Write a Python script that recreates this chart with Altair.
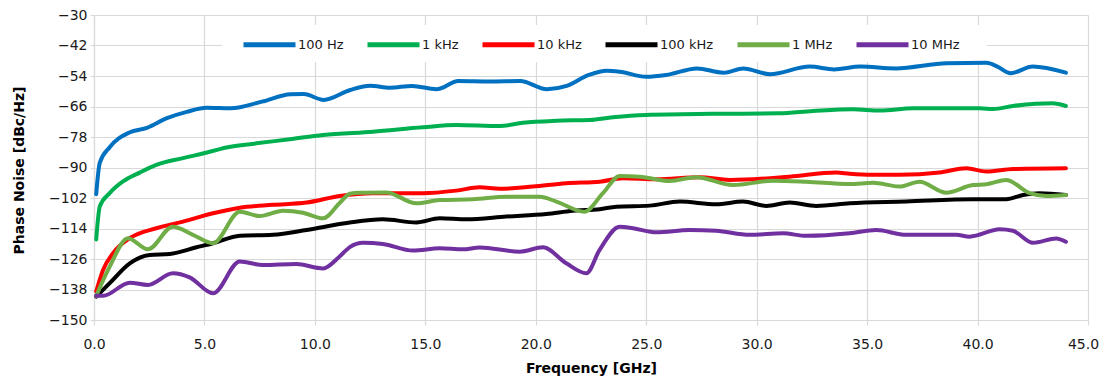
import altair as alt
import pandas as pd

series_names = ["100 Hz", "1 kHz", "10 kHz", "100 kHz", "1 MHz", "10 MHz"]
series_colors = ["#0070C0", "#00B050", "#FF0000", "#000000", "#70AD47", "#7030A0"]

x_ticks = [0, 5, 10, 15, 20, 25, 30, 35, 40, 45]
y_ticks = [-150, -138, -126, -114, -102, -90, -78, -66, -54, -42, -30]

f_100hz = [0.1, 0.26, 0.71, 1.6, 2.4, 3.3, 4.2, 5.1, 6.2, 7.6, 8.9, 9.5, 10.4, 11.6, 12.5, 13.4, 14.4, 15.5,
           16.5, 17.9, 19.3, 20.5, 21.4, 22.4, 23.2, 23.8, 25.0, 25.9, 27.3, 28.5, 29.4, 30.6, 32.4, 33.5,
           34.7, 36.3, 38.6, 40.4, 40.9, 41.5, 42.5, 44.0]
pn_100hz = [-100.5, -88.2, -82.0, -76.2, -74.4, -70.6, -68.1, -66.5, -66.7, -64.1, -61.2, -61.1, -63.4, -59.5,
            -57.8, -58.6, -57.9, -59.2, -56.0, -56.2, -56.0, -59.2, -57.9, -53.6, -51.9, -52.3, -54.3, -53.6,
            -51.0, -52.7, -51.0, -53.3, -50.3, -51.4, -50.3, -51.0, -49.0, -48.8, -50.3, -52.9, -50.3, -52.7]

f_1khz = [0.1, 0.26, 0.71, 1.31, 2.07, 2.82, 4.03, 4.93, 6.0, 7.35, 8.86, 10.37, 12.63, 14.89, 16.4, 18.37,
          19.42, 20.93, 22.44, 23.49, 25.0, 28.0, 31.0, 32.55, 34.36, 35.57, 37.08, 40.1, 40.7, 41.6, 43.4, 44.0]
pn_1khz = [-118.3, -105.4, -100.1, -95.5, -92.0, -89.0, -86.3, -84.5, -82.1, -80.5, -78.9, -77.2, -75.9, -74.2,
           -73.3, -73.7, -72.4, -71.6, -71.3, -70.2, -69.3, -68.9, -68.7, -67.8, -67.1, -67.6, -66.7, -66.7,
           -67.0, -65.8, -64.7, -65.8]

f_10khz = [0.1, 0.41, 0.86, 1.62, 2.82, 4.03, 5.39, 6.6, 8.1, 9.62, 11.12, 12.63, 14.89, 16.4, 17.46, 18.37,
           19.87, 21.38, 22.89, 23.95, 25.46, 27.42, 28.78, 31.49, 33.6, 34.21, 35.27, 36.47, 38.28, 39.49,
           40.4, 41.6, 44.0]
pn_10khz = [-138.8, -130.3, -123.7, -117.8, -113.9, -111.3, -108.0, -105.8, -104.7, -103.8, -101.2, -100.1,
            -100.1, -99.1, -97.8, -98.4, -97.5, -96.2, -95.6, -94.2, -94.6, -93.8, -94.9, -93.6, -92.0, -92.5,
            -92.9, -92.9, -92.0, -90.3, -91.6, -90.6, -90.3]

f_100khz = [0.1, 0.71, 1.62, 2.52, 3.43, 4.64, 5.39, 6.6, 8.1, 9.62, 11.58, 13.08, 14.59, 15.65, 16.86, 18.67,
            20.48, 21.68, 22.89, 23.65, 25.16, 26.51, 28.17, 29.38, 30.44, 31.49, 32.7, 34.21, 36.77, 39.79,
            41.3, 42.06, 42.81, 44.0]
pn_100khz = [-140.8, -135.5, -127.7, -124.4, -124.0, -121.4, -119.8, -116.9, -116.5, -114.6, -111.6, -110.4,
             -111.6, -110.0, -110.4, -109.3, -108.3, -107.0, -106.4, -105.4, -105.0, -103.4, -104.5, -103.4,
             -105.1, -103.8, -105.1, -104.1, -103.4, -102.5, -102.5, -100.8, -100.1, -100.8]

f_1mhz = [0.1, 0.71, 1.54, 2.44, 3.57, 4.48, 5.39, 6.6, 7.5, 8.56, 9.46, 10.37, 11.12, 11.58, 12.02, 13.23,
          14.59, 15.65, 17.16, 18.67, 20.18, 20.93, 22.2, 23.04, 23.8, 24.71, 26.06, 27.27, 28.93, 30.74, 32.25,
          34.21, 35.27, 36.47, 37.37, 38.58, 39.79, 40.4, 41.3, 42.36, 43.11, 44.0]
pn_1mhz = [-140.5, -129.0, -117.8, -122.2, -113.3, -116.5, -119.8, -107.4, -109.1, -107.0, -107.8, -110.0,
           -104.0, -100.3, -99.9, -99.8, -104.1, -102.8, -102.5, -101.5, -101.5, -103.4, -107.4, -100.1, -93.3,
           -93.6, -95.3, -93.8, -96.9, -95.2, -95.6, -96.5, -96.0, -97.5, -95.6, -99.9, -96.9, -96.6, -94.9,
           -100.1, -101.2, -100.8]

f_10mhz = [0.1, 0.41, 1.62, 2.44, 3.57, 4.33, 5.39, 6.6, 7.65, 9.16, 10.37, 11.12, 11.58, 12.18, 13.08, 14.44,
           15.65, 16.7, 17.46, 19.27, 20.33, 21.38, 22.29, 22.89, 23.8, 24.4, 25.46, 26.96, 28.17, 29.68, 31.19,
           32.25, 34.21, 35.42, 36.77, 39.03, 39.64, 41.0, 41.6, 42.51, 43.56, 44.0]
pn_10mhz = [-140.5, -140.5, -135.3, -136.2, -131.6, -133.2, -139.5, -127.0, -128.4, -128.0, -129.7, -125.0,
            -121.3, -119.6, -120.1, -122.7, -121.8, -122.2, -121.5, -123.1, -121.4, -127.7, -131.6, -122.4,
            -113.3, -113.9, -115.5, -114.6, -114.9, -116.5, -115.9, -116.9, -115.9, -114.6, -116.5, -116.5,
            -117.2, -114.3, -114.9, -119.6, -117.9, -119.2]

all_f = [f_100hz, f_1khz, f_10khz, f_100khz, f_1mhz, f_10mhz]
all_pn = [pn_100hz, pn_1khz, pn_10khz, pn_100khz, pn_1mhz, pn_10mhz]

rows = []
for name, fs, vs in zip(series_names, all_f, all_pn):
    for f, v in zip(fs, vs):
        rows.append({"series": name, "freq": f, "pn": v})
df = pd.DataFrame(rows)

FONT = "DejaVu Sans"
GRID = "#D9D9D9"

# white box behind the legend (hides gridlines there, drawn below the data lines)
legend_box = alt.Chart(pd.DataFrame({"k": [0]})).mark_rect(color="white").encode(
    x=alt.value(128), x2=alt.value(893), y=alt.value(10), y2=alt.value(47)
)

lines = alt.Chart(df).mark_line(
    strokeWidth=4, interpolate="monotone", strokeCap="round", strokeJoin="round"
).encode(
    x=alt.X(
        "freq:Q",
        scale=alt.Scale(domain=[0, 45], nice=False, zero=False),
        axis=alt.Axis(
            values=x_ticks, format=".1f", title="Frequency [GHz]",
            grid=True, gridColor=GRID, gridWidth=1.2,
            domainColor=GRID, domainWidth=1.2,
            tickColor=GRID, tickSize=5, tickWidth=1.2,
            labelFont=FONT, labelFontSize=14, labelColor="#1a1a1a", labelPadding=12,
            labelFlush=False,
            labelOffset=alt.condition("datum.value == 45", alt.value(-5), alt.value(0)),
            titleFont=FONT, titleFontSize=14, titleFontWeight="bold", titleColor="#000000",
            titleX=497, titleY=48, titleBaseline="middle", titleAlign="center",
        ),
    ),
    y=alt.Y(
        "pn:Q",
        scale=alt.Scale(domain=[-150, -30], nice=False, zero=False),
        axis=alt.Axis(
            values=y_ticks, format="d", title="Phase Noise [dBc/Hz]",
            grid=True, gridColor=GRID, gridWidth=1.2,
            domainColor=GRID, domainWidth=1.2,
            tickColor=GRID, tickSize=4, tickWidth=1.2,
            labelFont=FONT, labelFontSize=14, labelColor="#1a1a1a", labelPadding=3,
            labelFlush=False,
            titleFont=FONT, titleFontSize=14, titleFontWeight="bold", titleColor="#000000",
            titleX=-75, titleY=155, titleBaseline="middle", titleAlign="center", titleAngle=-90,
        ),
    ),
    color=alt.Color(
        "series:N",
        sort=series_names,
        scale=alt.Scale(domain=series_names, range=series_colors),
        legend=alt.Legend(
            title=None, orient="none", legendX=135, legendY=-11, direction="horizontal", columns=6,
            symbolType="stroke", symbolSize=2704, symbolStrokeWidth=5,
            labelFont=FONT, labelFontSize=13, labelColor="#1a1a1a", labelOffset=0,
            columnPadding=13, padding=12,
        ),
    ),
)

chart = alt.layer(legend_box, lines).properties(
    width=994, height=305,
    autosize=alt.AutoSizeParams(type="none"),
    padding={"left": 86, "top": 7, "right": 11, "bottom": 56},
).configure_view(stroke=None)

chart.save("out.html", embed_options={"renderer": "svg", "actions": False})
